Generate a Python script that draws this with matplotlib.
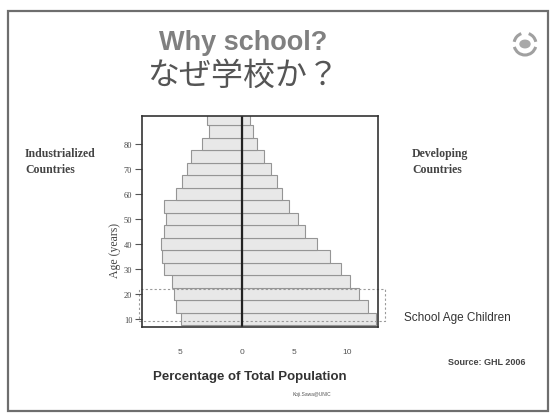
import matplotlib.pyplot as plt
from matplotlib.patches import Rectangle, Arc, Circle

# age groups (centre of each 5-year band)
ages = [10, 15, 20, 25, 30, 35, 40, 45, 50, 55, 60, 65, 70, 75, 80, 85, 90]
# percentage of total population
industrialized = [5.9, 6.3, 6.5, 6.7, 7.5, 7.7, 7.8, 7.5, 7.3, 7.5, 6.3, 5.8, 5.3, 4.9, 3.9, 3.2, 3.4]
developing = [12.8, 12.0, 11.2, 10.3, 9.5, 8.4, 7.2, 6.0, 5.3, 4.5, 3.8, 3.3, 2.8, 2.1, 1.4, 1.0, 0.7]

yticks = [10, 20, 30, 40, 50, 60, 70, 80]
xticks = [-6, 0, 5, 10]
xtick_labels = ['5', '0', '5', '10']

W, H = 552, 414
fig = plt.figure(figsize=(5.52, 4.14), dpi=100)
fig.patch.set_facecolor('white')

# slide frame
fig.add_artist(Rectangle((8 / W, 1 - 412 / H), 540 / W, 400 / H, transform=fig.transFigure,
                         fill=False, edgecolor='#6e6e6e', linewidth=1.6))

# titles
fig.text(243 / W, 1 - 43 / H, 'Why school?', ha='center', va='center', fontsize=19.5,
         fontweight='bold', color='#808080', family='Liberation Sans')
fig.text(243 / W, 1 - 76 / H, 'なぜ学校か？', ha='center', va='center', fontsize=23,
         color='#555555', family=['Noto Sans CJK JP', 'DejaVu Sans'])

# small emblem top right
ex, ey = 525 / W, 1 - 45 / H
for t1, t2 in [(200, 340), (105, 165), (15, 75)]:
    fig.add_artist(Arc((ex, ey), 22 / W, 22 / H, theta1=t1, theta2=t2, transform=fig.transFigure,
                       color='#a0a0a0', linewidth=2.2))
fig.add_artist(Circle((ex, ey), 5 / W, transform=fig.transFigure, color='#a8a8a8'))

# pyramid
ax = fig.add_axes([142 / W, 1 - 328 / H, (378 - 142) / W, (328 - 117) / H])
ax.barh(ages, [-v for v in industrialized], height=5, color='#e8e8e8',
        edgecolor='#959595', linewidth=0.8)
ax.barh(ages, developing, height=5, color='#e8e8e8',
        edgecolor='#959595', linewidth=0.8)
ax.axvline(0, color='#222222', linewidth=1.6)

ax.set_xlim(-9.6, 13.0)
ax.set_ylim(6.8, 91.2)
ax.set_yticks(yticks)
ax.set_yticklabels([str(t) for t in yticks], family='Liberation Serif', fontsize=6, color='#444444')
ax.tick_params(axis='y', length=5, width=0.8, color='#555555', pad=2)
ax.set_xticks(xticks)
ax.set_xticklabels(xtick_labels, family='Liberation Sans', fontsize=6, color='#555555')
ax.tick_params(axis='x', length=0, pad=15)
for s in ax.spines.values():
    s.set_color('#333333')
    s.set_linewidth(1.2)

# school age box
ax.add_patch(Rectangle((-9.9, 9.2), 23.6, 12.8, fill=False, edgecolor='#9a9a9a',
                       linestyle=(0, (2, 2)), linewidth=0.8, clip_on=False))

# labels
fig.text(250 / W, 1 - 377 / H, 'Percentage of Total Population', ha='center', va='center',
         fontsize=9.5, fontweight='bold', color='#333333', family='Liberation Sans')
fig.text(115 / W, 1 - 250 / H, 'Age (years)', ha='center', va='center', rotation=90,
         fontsize=8.5, color='#444444', family='Liberation Serif')
fig.text(25 / W, 1 - 162 / H, 'Industrialized\nCountries', ha='left', va='center',
         fontsize=8.5, fontweight='bold', color='#444444', family='Liberation Serif', linespacing=1.4)
fig.text(412 / W, 1 - 162 / H, 'Developing\nCountries', ha='left', va='center',
         fontsize=8.5, fontweight='bold', color='#444444', family='Liberation Serif', linespacing=1.4)
fig.text(404 / W, 1 - 318 / H, 'School Age Children', ha='left', va='center',
         fontsize=8.5, color='#333333', family='Liberation Sans')
fig.text(525 / W, 1 - 363 / H, 'Source: GHL 2006', ha='right', va='center',
         fontsize=6.5, fontweight='bold', color='#444444', family='Liberation Sans')
fig.text(312 / W, 1 - 395 / H, 'Koji.Sawa@UNIC', ha='center', va='center',
         fontsize=3.5, color='#555555', family='Liberation Sans')

fig.savefig('out.png', dpi=100, facecolor='white')
